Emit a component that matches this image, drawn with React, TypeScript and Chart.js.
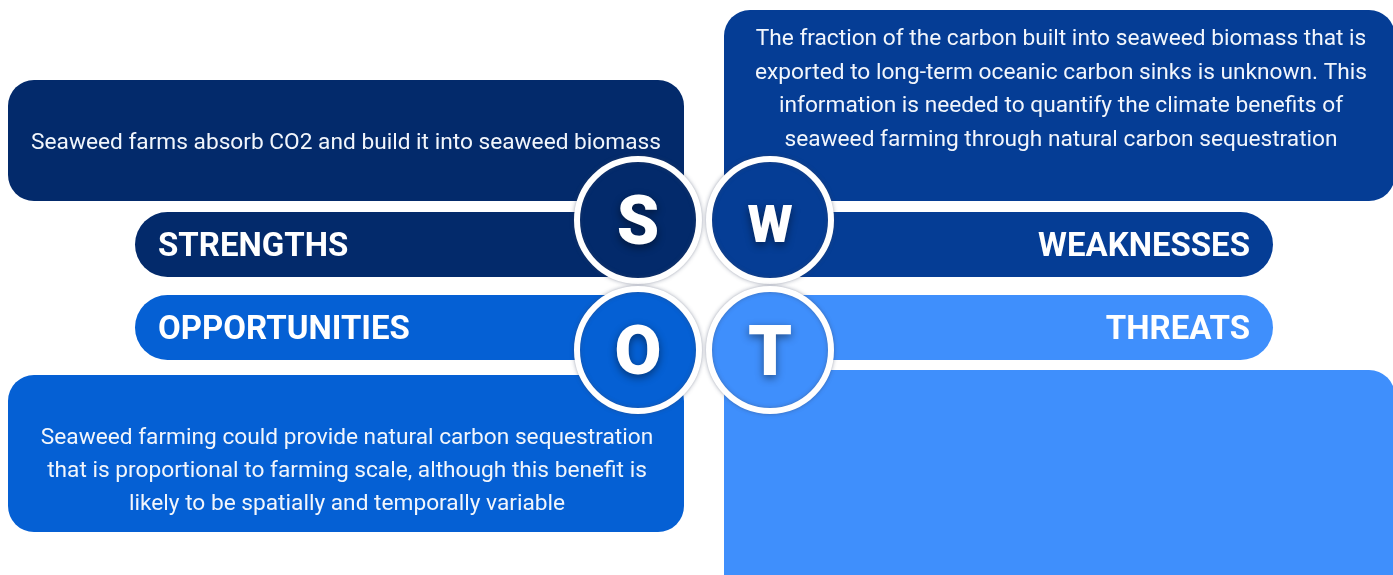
import React, { useEffect, useRef } from "react";
import { Chart, registerables } from "chart.js";

Chart.register(...registerables);

// ---- data ----
const CATEGORIES = ["STRENGTHS", "WEAKNESSES", "OPPORTUNITIES", "THREATS"];
const LETTERS = ["S", "W", "O", "T"];
const DESC_STRENGTHS = ["Seaweed farms absorb CO2 and build it into seaweed biomass"];
const DESC_WEAKNESSES = [
  "The fraction of the carbon built into seaweed biomass that is",
  "exported to long-term oceanic carbon sinks is unknown. This",
  "information is needed to quantify the climate benefits of",
  "seaweed farming through natural carbon sequestration",
];
const DESC_OPPORTUNITIES = [
  "Seaweed farming could provide natural carbon sequestration",
  "that is proportional to farming scale, although this benefit is",
  "likely to be spatially and temporally variable",
];
const DESC_THREATS: string[] = [];
const DESCRIPTIONS = [DESC_STRENGTHS, DESC_WEAKNESSES, DESC_OPPORTUNITIES, DESC_THREATS];

// ---- styles ----
const COLORS = ["#032a6b", "#053d95", "#0560d4", "#3f8ffc"];
const FONT = "Roboto, 'Noto Sans', sans-serif";

// ---- layout (in the diagram's coordinate space, 1393 x 575) ----
const DESC_BOXES = [
  { x0: 8, x1: 684, y0: 80, y1: 201, tx: 346, ty: [141], size: 22.7 },
  { x0: 724, x1: 1395, y0: 10, y1: 201, tx: 1061, ty: [37, 71, 104, 138], size: 22.7 },
  { x0: 8, x1: 684, y0: 375, y1: 532, tx: 347, ty: [436, 469, 502], size: 22.7 },
  { x0: 724, x1: 1395, y0: 370, y1: 600, tx: 1061, ty: [], size: 22.7 },
];
const BARS = [
  { x0: 135, x1: 640, y0: 212, y1: 277, tx: 158 },
  { x0: 768, x1: 1273, y0: 212, y1: 277, tx: 1250 },
  { x0: 135, x1: 640, y0: 295, y1: 360, tx: 158 },
  { x0: 768, x1: 1273, y0: 295, y1: 360, tx: 1250 },
];
const LABEL_SIZE = 33;
const CIRCLE_X = [638, 770, 638, 770];
const CIRCLE_Y = [220, 220, 350, 350];
const LETTER_SIZE = [68, 52, 68, 70];
const LETTER_DY = [0, 4, 0, 0];

function roundRect(ctx: CanvasRenderingContext2D, x0: number, y0: number, x1: number, y1: number, r: number[]) {
  ctx.beginPath();
  ctx.moveTo(x0 + r[0], y0);
  ctx.lineTo(x1 - r[1], y0);
  ctx.arcTo(x1, y0, x1, y0 + r[1], r[1]);
  ctx.lineTo(x1, y1 - r[2]);
  ctx.arcTo(x1, y1, x1 - r[2], y1, r[2]);
  ctx.lineTo(x0 + r[3], y1);
  ctx.arcTo(x0, y1, x0, y1 - r[3], r[3]);
  ctx.lineTo(x0, y0 + r[0]);
  ctx.arcTo(x0, y0, x0 + r[0], y0, r[0]);
  ctx.closePath();
}

const swotPlugin = {
  id: "swot",
  beforeDatasetsDraw(chart: any) {
    const ctx: CanvasRenderingContext2D = chart.ctx;
    const xs = chart.scales.x;
    const ys = chart.scales.y;
    const X = (v: number) => xs.getPixelForValue(v);
    const Y = (v: number) => ys.getPixelForValue(v);
    ctx.save();
    DESC_BOXES.forEach((b, i) => {
      ctx.fillStyle = COLORS[i];
      roundRect(ctx, X(b.x0), Y(b.y0), X(b.x1), Y(b.y1), [26, 26, 26, 26]);
      ctx.fill();
      ctx.fillStyle = "#f2f6fc";
      ctx.font = `400 ${b.size}px ${FONT}`;
      ctx.textAlign = "center";
      ctx.textBaseline = "alphabetic";
      DESCRIPTIONS[i].forEach((line, k) => {
        ctx.fillText(line, X(b.tx), Y(b.ty[k]) + (b.size * 0.711) / 2);
      });
    });
    BARS.forEach((b, i) => {
      const x0 = X(b.x0), x1 = X(b.x1), y0 = Y(b.y0), y1 = Y(b.y1);
      const r = (y1 - y0) / 2;
      ctx.fillStyle = COLORS[i];
      const left = i % 2 === 0;
      roundRect(ctx, x0, y0, x1, y1, left ? [r, 0, 0, r] : [0, r, r, 0]);
      ctx.fill();
      ctx.fillStyle = "#ffffff";
      ctx.font = `700 ${LABEL_SIZE}px ${FONT}`;
      ctx.textAlign = left ? "left" : "right";
      ctx.textBaseline = "alphabetic";
      ctx.fillText(CATEGORIES[i], X(b.tx), (y0 + y1) / 2 + (LABEL_SIZE * 0.711) / 2);
    });
    ctx.restore();
  },
  beforeDatasetDraw(chart: any) {
    const ctx = chart.ctx;
    ctx.save();
    ctx.shadowColor = "rgba(60,70,100,0.45)";
    ctx.shadowBlur = 4;
  },
  afterDatasetDraw(chart: any) {
    chart.ctx.restore();
  },
  afterDatasetsDraw(chart: any) {
    const ctx: CanvasRenderingContext2D = chart.ctx;
    const meta = chart.getDatasetMeta(0);
    ctx.save();
    meta.data.forEach((pt: any, i: number) => {
      const s = LETTER_SIZE[i];
      ctx.font = `900 ${s}px ${FONT}`;
      ctx.textAlign = "center";
      ctx.textBaseline = "alphabetic";
      ctx.shadowColor = "rgba(0,0,0,0.45)";
      ctx.shadowBlur = 8;
      ctx.shadowOffsetY = 3;
      ctx.fillStyle = "#ffffff";
      ctx.fillText(LETTERS[i], pt.x, pt.y + LETTER_DY[i] + (s * 0.711) / 2);
    });
    ctx.restore();
  },
};

export default function App() {
  const ref = useRef<HTMLCanvasElement | null>(null);
  useEffect(() => {
    if (!ref.current) return;
    const chart = new Chart(ref.current, {
      type: "scatter",
      data: {
        datasets: [
          {
            label: "SWOT",
            data: LETTERS.map((_, i) => ({ x: CIRCLE_X[i], y: CIRCLE_Y[i] })),
            pointRadius: 61,
            pointHoverRadius: 61,
            pointBackgroundColor: COLORS,
            pointBorderColor: "#ffffff",
            pointBorderWidth: 6,
            pointHoverBorderWidth: 6,
            clip: false,
          },
        ],
      },
      options: {
        responsive: false,
        animation: false,
        devicePixelRatio: 1,
        layout: { padding: 0, autoPadding: false },
        events: [],
        scales: {
          x: { type: "linear", min: 0, max: 1393, display: false },
          y: { type: "linear", min: 0, max: 575, reverse: true, display: false },
        },
        plugins: { legend: { display: false }, tooltip: { enabled: false }, title: { display: false } },
      },
      plugins: [swotPlugin],
    });
    return () => chart.destroy();
  }, []);
  return (
    <div style={{ position: "absolute", left: 0, top: 0, width: 1393, height: 575, background: "#ffffff", overflow: "hidden" }}>
      <canvas ref={ref} width={1393} height={575} style={{ display: "block" }} />
    </div>
  );
}
